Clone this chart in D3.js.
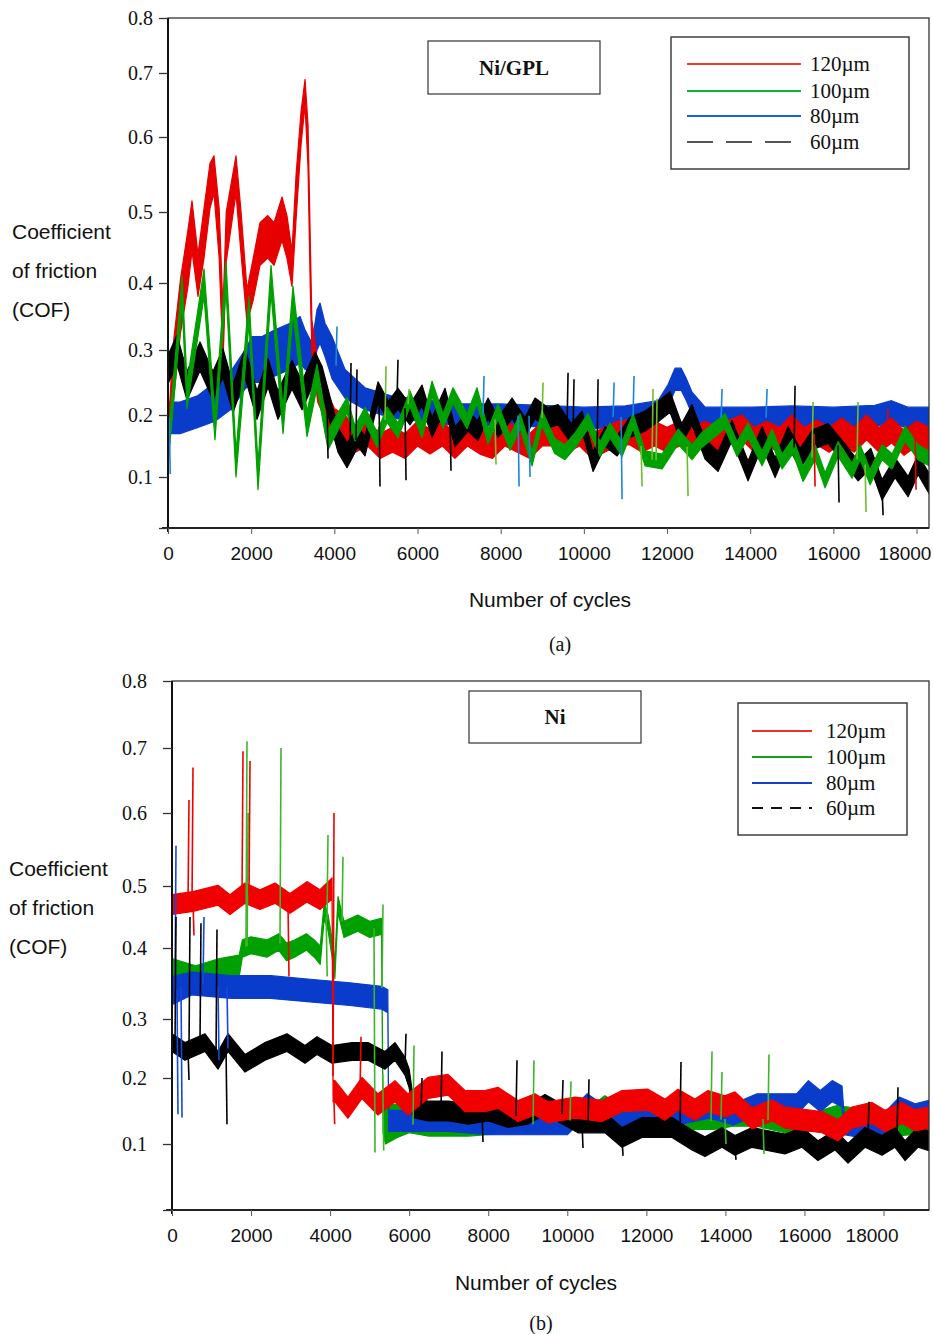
<!DOCTYPE html>
<html lang="en">
<head>
<meta charset="UTF-8">
<title>Coefficient of friction vs number of cycles</title>
<script src="https://d3js.org/d3.v7.min.js"></script>
<style>
  body { margin: 0; background: #fff; }
  .serif { font-family: "Liberation Serif", "Times New Roman", serif; }
  .sans { font-family: "Liberation Sans", Arial, sans-serif; }
</style>
</head>
<body>
<svg width="933" height="1334"></svg>
<script>
// ---------- data ----------
// each point: [cycles, centre COF, optional half-spread of the noise band]
const xTicks = [0, 2000, 4000, 6000, 8000, 10000, 12000, 14000, 16000, 18000];
const yTicks = [0.1, 0.2, 0.3, 0.4, 0.5, 0.6, 0.7, 0.8];
const legendLabels = ["120\u00b5m", "100\u00b5m", "80\u00b5m", "60\u00b5m"];

// (a) Ni/GPL
const gplRed = [[0,0.15,0.02],[120,0.26,0.045],[300,0.365,0.04],[480,0.435,0.04],[577,0.48,0.035],[721,0.41,0.03],
  [866,0.47,0.035],[1010,0.535,0.03],[1106,0.55,0.025],[1230,0.47,0.035],[1323,0.32,0.04],[1400,0.465,0.035],
  [1635,0.55,0.025],[1750,0.475,0.03],[1900,0.365,0.025],[2050,0.405,0.03],[2213,0.455,0.03],[2400,0.465,0.03],
  [2550,0.455,0.03],[2742,0.49,0.03],[2860,0.465,0.03],[2982,0.42,0.025],[3080,0.52,0.03],[3200,0.615,0.025],
  [3295,0.67,0.02],[3367,0.59,0.03],[3420,0.43,0.035],[3460,0.32,0.025],[3600,0.25,0.03],[3800,0.215,0.025],
  [4000,0.185,0.025],[4250,0.18],[4500,0.16],[4800,0.17],[5100,0.15],[5400,0.16],[5700,0.15],[6000,0.17],
  [6300,0.157],[6600,0.17],[6900,0.15],[7200,0.17],[7500,0.157],[7800,0.15],[8100,0.17],[8400,0.16],[8700,0.15],
  [9000,0.17],[9300,0.17],[9600,0.16],[9900,0.17],[10200,0.15],[10500,0.16],[10800,0.17],[11100,0.172],
  [11400,0.16],[11700,0.17],[12000,0.16],[12300,0.17],[12600,0.16],[12900,0.17],[13200,0.162],[13500,0.172],
  [13800,0.18],[14100,0.16],[14400,0.17],[14700,0.16],[15000,0.18],[15300,0.16],[15600,0.172],[15900,0.16],
  [16200,0.175],[16500,0.16],[16800,0.18],[17100,0.16],[17400,0.175],[17700,0.155],[18000,0.17],[18300,0.16]];
const gplGreen = [[0,0.14,0.02],[289,0.35,0.02],[337,0.39,0.02],[457,0.23,0.02],[866,0.40,0.02],[1130,0.18,0.02],
  [1395,0.41,0.02],[1635,0.12,0.02],[1948,0.36,0.02],[2165,0.10,0.02],[2477,0.405,0.02],[2766,0.19,0.02],
  [3006,0.375,0.02],[3343,0.185,0.02],[3583,0.26,0.018],[3848,0.16,0.016],
  [4305,0.215],[4497,0.17],[4738,0.20],[5026,0.16],[5267,0.20],[5531,0.175],[5820,0.225],[6109,0.175],
  [6349,0.24],[6614,0.19],[6854,0.23],[7191,0.19],[7431,0.23],[7696,0.165],[7937,0.205],[8225,0.155],
  [8466,0.19],[8754,0.13],[8995,0.195],[9300,0.15],[9548,0.14],[9800,0.16],[10101,0.19],[10390,0.145],
  [10630,0.175],[10919,0.145],[11183,0.19],[11472,0.13],[11881,0.125],[12266,0.165],[12602,0.14],[12843,0.16],
  [13396,0.19],[13685,0.145],[13949,0.175],[14286,0.13],[14526,0.165],[14767,0.125],[15031,0.15],[15272,0.105],
  [15560,0.14],[15801,0.095],[16113,0.145],[16450,0.11],[16643,0.14],[16883,0.10],[17172,0.14],[17412,0.125],
  [17725,0.17],[18037,0.14],[18300,0.13]];
const gplBlue = [[0,0.195,0.025],[289,0.195,0.025],[721,0.205,0.025],[1130,0.22,0.03],[1539,0.24,0.03],
  [1852,0.27,0.03],[2020,0.285,0.035],[2261,0.285,0.035],[2573,0.295,0.035],[2934,0.305,0.035],[3175,0.315,0.035],
  [3295,0.30,0.03],[3463,0.288,0.022],[3583,0.33,0.03],[3656,0.34,0.03],[3776,0.315,0.025],[3944,0.288,0.032],
  [4257,0.248,0.022],[4738,0.225],[5387,0.212],[6061,0.207],[7000,0.2],[8000,0.2],[9000,0.198],[10000,0.195],
  [11000,0.197],[11785,0.205],[12025,0.23],[12193,0.255],[12340,0.255],[12458,0.24],[12602,0.218],[12915,0.195],
  [14000,0.195],[15000,0.197],[16000,0.195],[17000,0.198],[17400,0.205],[17800,0.195],[18300,0.195]];
const gplBlack = [[0,0.27,0.022],[216,0.3,0.022],[457,0.245,0.022],[770,0.29,0.022],[1082,0.245,0.022],
  [1323,0.28,0.022],[1563,0.225,0.022],[1852,0.28,0.022],[2140,0.215,0.022],[2405,0.265,0.022],[2645,0.215,0.022],
  [2982,0.262,0.022],[3223,0.23,0.022],[3535,0.275,0.022],[3704,0.255,0.02],[4088,0.16,0.02],[4305,0.135,0.02],
  [4569,0.165],[4738,0.15],[5050,0.235],[5300,0.205],[5531,0.225],[5820,0.20],[6109,0.23],[6349,0.18],[6662,0.225],
  [6902,0.165],[7215,0.19],[7450,0.175],[7696,0.21],[7937,0.18],[8273,0.21],[8586,0.18],[8826,0.21],[9139,0.195],
  [9380,0.20],[9700,0.17],[9957,0.19],[10221,0.125],[10510,0.165],[10800,0.15],[11100,0.18],[11472,0.19],
  [11785,0.205],[12073,0.22],[12350,0.17],[12602,0.20],[12915,0.145],[13227,0.125],[13564,0.175],[13949,0.11],
  [14286,0.165],[14599,0.115],[14911,0.165],[15200,0.13],[15500,0.16],[15873,0.17],[16250,0.14],[16595,0.11],
  [16900,0.13],[17172,0.08],[17484,0.115],[17797,0.085],[18037,0.12],[18300,0.09]];
// spikes: [cycles, COF at tip]
const gplRedSpikes = [[15536,0.085],[17292,0.21],[17965,0.08]];
const gplGreenSpikes = [[5219,0.275],[5772,0.24],[7864,0.12],[8995,0.25],[11376,0.085],[11640,0.24],[11736,0.225],
  [12482,0.07],[15488,0.22],[16570,0.22],[16763,0.045]];
const gplBlueSpikes = [[30,0.105],[4040,0.335],[7576,0.26],[8418,0.085],[8682,0.10],[10703,0.25],[10895,0.065],
  [11183,0.26],[13300,0.24],[14382,0.24]];
const gplBlackSpikes = [[3824,0.13],[4377,0.28],[4521,0.27],[5074,0.085],[5507,0.285],[5700,0.095],[6782,0.11],
  [9596,0.265],[9740,0.255],[10318,0.255],[15055,0.245],[16113,0.06],[17172,0.04]];

// (b) Ni
const niRed = [[0,0.47],[531,0.475],[1164,0.485],[1467,0.47],[1847,0.488],[2226,0.478],[2606,0.488],[2985,0.472],
  [3415,0.49],[3744,0.478],[4048,0.495],[4075,0.18],[4123,0.18],[4452,0.155],[4807,0.185],[5211,0.16],[5641,0.18],
  [5970,0.16],[6476,0.185],[6982,0.19],[7412,0.165],[7918,0.165],[8247,0.17],[8753,0.15],[9183,0.16],[9512,0.148],
  [10195,0.155],[10878,0.15],[11384,0.165],[12041,0.167],[12471,0.152],[12800,0.167],[13230,0.152],[13559,0.165],
  [13989,0.157],[14242,0.163],[14672,0.139],[15178,0.151],[15507,0.14],[15937,0.137],[16443,0.133],[16848,0.121],
  [17202,0.14],[17708,0.147],[18037,0.135],[18467,0.147],[18796,0.136],[19150,0.14]];
const niGreen = [[0,0.37,0.015],[600,0.36,0.015],[1200,0.37,0.015],[1700,0.375,0.015],[1780,0.40],[2000,0.405],
  [2400,0.40],[2700,0.41],[2900,0.395],[3100,0.40],[3400,0.41],[3600,0.40],[3750,0.39],[3850,0.46],[3950,0.44],
  [4050,0.40],[4120,0.37],[4200,0.47],[4350,0.43],[4700,0.44],[5000,0.43],[5300,0.435],[5340,0.13],[5400,0.13,0.03],
  [5700,0.135,0.025],[6000,0.13],[6500,0.125],[7500,0.125],[8500,0.13],[9500,0.13],[10000,0.135],[10500,0.14],
  [10950,0.16],[11400,0.145],[11970,0.165],[12500,0.14],[13200,0.135],[13700,0.135],[14200,0.14],[14800,0.14],
  [15500,0.13],[16000,0.13],[16800,0.145],[17500,0.14],[18300,0.125],[19150,0.13]];
const niBlue = [[0,0.34,0.02],[500,0.35],[1500,0.345],[2500,0.345],[3500,0.34],[4500,0.335],[5300,0.33],[5460,0.325],
  [5480,0.135],[6000,0.135],[7000,0.135],[8000,0.13],[9000,0.13],[10000,0.13],[10500,0.16],[11000,0.14],[11600,0.14],
  [12200,0.14],[12800,0.145],[13600,0.155],[14200,0.145],[14800,0.16],[15300,0.16],[15800,0.16],[16100,0.18],
  [16400,0.165],[16700,0.18],[16950,0.172],[17000,0.13],[17500,0.125],[18000,0.13],[18400,0.155],[18800,0.145],
  [19150,0.15]];
const niBlack = [[0,0.26],[329,0.245],[835,0.26],[1164,0.23],[1417,0.26],[1847,0.225],[2353,0.245],[2909,0.26],
  [3365,0.24],[3668,0.255],[4048,0.24],[4554,0.245],[4958,0.245],[5388,0.23],[5641,0.245],[5894,0.22],[6000,0.2],
  [6100,0.155],[6476,0.15],[7000,0.15],[7500,0.145],[8000,0.15],[8500,0.14],[9000,0.145],[9436,0.16],[10271,0.132],
  [10954,0.132],[11384,0.11],[11890,0.125],[12649,0.125],[13155,0.106],[13483,0.096],[13913,0.11],[14242,0.098],
  [14672,0.11],[15507,0.1],[15937,0.11],[16342,0.09],[16772,0.106],[17101,0.086],[17531,0.11],[17961,0.098],
  [18290,0.11],[18543,0.09],[18872,0.11],[19150,0.105]];
const niRedSpikes = [[405,0.62],[506,0.67],[531,0.42],[1771,0.695],[1948,0.68],[2934,0.36],[4073,0.60],[4090,0.13],[4756,0.27]];
const niGreenSpikes = [[1872,0.71],[1900,0.60],[2732,0.70],[3900,0.36],[3921,0.57],[4300,0.54],[5110,0.087],[5312,0.47],
  [5330,0.09],[6097,0.255],[9132,0.23],[10068,0.195],[13635,0.245],[13888,0.21],[13989,0.10],[14950,0.085],[15077,0.24]];
const niBlueSpikes = [[76,0.555],[126,0.145],[228,0.14],[784,0.45],[1164,0.23],[1391,0.25]];
const niBlackSpikes = [[76,0.45],[405,0.197],[430,0.45],[708,0.44],[1113,0.43],[1366,0.13],[5894,0.275],[6300,0.2],
  [6805,0.245],[7842,0.103],[8702,0.23],[9866,0.197],[10372,0.094],[10524,0.198],[11384,0.082],[12851,0.227],
  [14242,0.076],[17607,0.164],[18340,0.186]];

// ---------- drawing ----------
const svg = d3.select("svg");

function centreAt(pts, c) {
  const i = Math.max(1, Math.min(pts.length - 1, d3.bisector(d => d.c).left(pts, c)));
  const a = pts[i - 1], b = pts[i];
  const t = Math.max(0, Math.min(1, (c - a.c) / (b.c - a.c)));
  return a.m + t * (b.m - a.m);
}

function drawPanel(p) {
  const x = d3.scaleLinear().domain([0, p.xMax]).range([p.left, p.right]);
  // the printed axis is not evenly spaced, so the scale follows its tick marks
  const y = d3.scaleLinear().domain(p.yDomain).range(p.yRange);

  svg.append("clipPath").attr("id", p.id + "clip")
    .append("rect").attr("x", p.left).attr("y", p.top)
    .attr("width", p.right - p.left).attr("height", p.bottom - p.top);

  const plot = svg.append("g").attr("clip-path", `url(#${p.id}clip)`);

  const prepared = p.series.map(s => ({
    s, pts: s.data.map(d => ({ c: d[0], m: d[1], h: d[2] != null ? d[2] : s.spread }))
  }));

  prepared.forEach(({ s, pts }) => {
    const area = d3.area()
      .x(d => x(d.c))
      .y0(d => y(d.m - d.h))
      .y1(d => y(d.m + d.h));
    plot.append("path")
      .attr("d", area(pts))
      .attr("fill", s.color)
      .attr("stroke", s.color)
      .attr("stroke-width", 1.2)
      .attr("stroke-linejoin", "round");
  });

  prepared.forEach(({ s, pts }) => {
    plot.selectAll(null)
      .data(s.spikes)
      .enter().append("line")
      .attr("x1", d => x(d[0])).attr("x2", d => x(d[0]) + 1)
      .attr("y1", d => y(centreAt(pts, d[0])))
      .attr("y2", d => y(d[1]))
      .attr("stroke", s.spikeColor)
      .attr("stroke-width", 1.6);
  });

  // frame
  svg.append("rect")
    .attr("x", p.left).attr("y", p.top)
    .attr("width", p.right - p.left).attr("height", p.bottom - p.top)
    .attr("fill", "none").attr("stroke", "#333").attr("stroke-width", 1.3);
  svg.append("line").attr("x1", p.left).attr("x2", p.left)
    .attr("y1", p.top).attr("y2", p.bottom + 4).attr("stroke", "#111").attr("stroke-width", 2);
  svg.append("line").attr("x1", p.left - 6).attr("x2", p.right)
    .attr("y1", p.bottom).attr("y2", p.bottom).attr("stroke", "#222").attr("stroke-width", 2);

  // y axis
  const yAxis = svg.append("g").attr("transform", `translate(${p.left},0)`)
    .call(d3.axisLeft(y).tickValues([p.yDomain[0]].concat(yTicks))
      .tickSize(9).tickPadding(p.yPad)
      .tickFormat(d => d < 0.05 ? "" : d.toFixed(1)));
  yAxis.select(".domain").remove();
  yAxis.selectAll(".tick line").attr("stroke", "#333").attr("stroke-width", 1.3);
  yAxis.selectAll("text").attr("class", "serif").attr("font-size", 20).attr("fill", "#111");

  // x axis
  const xAxis = svg.append("g").attr("transform", `translate(0,${p.bottom})`)
    .call(d3.axisBottom(x).tickValues(xTicks).tickSize(6).tickPadding(13).tickFormat(d3.format("d")));
  xAxis.select(".domain").remove();
  xAxis.selectAll(".tick line").attr("stroke", "#555");
  xAxis.selectAll("text").attr("class", "sans").attr("font-size", 19).attr("fill", "#111")
    .attr("dx", d => d === 18000 ? -12 : 0);

  // axis titles
  svg.append("g").selectAll("text")
    .data(["Coefficient", "of friction", "(COF)"])
    .enter().append("text")
    .attr("class", "sans").attr("font-size", 21).attr("fill", "#111")
    .attr("x", p.yTitleX).attr("y", (d, i) => p.yTitleY + i * 39)
    .text(d => d);
  svg.append("text").attr("class", "sans").attr("font-size", 21).attr("fill", "#111")
    .attr("text-anchor", "middle").attr("x", p.xTitleX).attr("y", p.xTitleY)
    .text("Number of cycles");
  svg.append("text").attr("class", "serif").attr("font-size", 20).attr("fill", "#111")
    .attr("text-anchor", "middle").attr("x", p.capX).attr("y", p.capY)
    .text(p.caption);

  // material box
  const b = p.nameBox;
  svg.append("rect").attr("x", b[0]).attr("y", b[1]).attr("width", b[2]).attr("height", b[3])
    .attr("fill", "#fff").attr("stroke", "#333").attr("stroke-width", 1.2);
  svg.append("text").attr("class", "serif").attr("font-weight", "bold").attr("font-size", 21)
    .attr("text-anchor", "middle").attr("fill", "#111")
    .attr("x", b[0] + b[2] / 2).attr("y", b[1] + b[3] / 2 + 7).text(p.name);

  // legend
  const L = p.legend;
  svg.append("rect").attr("x", L.x).attr("y", L.y).attr("width", L.w).attr("height", L.h)
    .attr("fill", "#fff").attr("stroke", "#333").attr("stroke-width", 1.4);
  const rows = svg.append("g").selectAll("g")
    .data(legendLabels).enter().append("g")
    .attr("transform", (d, i) => `translate(0,${L.rowY[i]})`);
  rows.append("line")
    .attr("x1", L.lineX[0]).attr("x2", L.lineX[1])
    .attr("stroke", (d, i) => L.colors[i])
    .attr("stroke-width", (d, i) => i === 3 ? 2 : 1.8)
    .attr("stroke-dasharray", (d, i) => i === 3 ? L.dash : null);
  rows.append("text").attr("class", "serif").attr("font-size", 21).attr("fill", "#111")
    .attr("x", L.textX).attr("y", 7).text(d => d);
}

drawPanel({
  id: "a", left: 168, right: 929, top: 18, bottom: 528, xMax: 18300,
  yDomain: [0.02, 0.1, 0.2, 0.3, 0.4, 0.5, 0.6, 0.7, 0.8],
  yRange: [528, 477, 415, 350, 283, 212, 137, 73, 18],
  yPad: 6, yTitleX: 12, yTitleY: 239, xTitleX: 550, xTitleY: 607,
  caption: "(a)", capX: 560, capY: 651,
  name: "Ni/GPL", nameBox: [428, 41, 172, 53],
  legend: { x: 671, y: 37, w: 238, h: 132, rowY: [64, 91, 116, 142], lineX: [687, 801], textX: 810,
            colors: ["#f03a3a", "#12b040", "#1a5fe0", "#555"], dash: "26,13" },
  series: [
    { data: gplBlue, spread: 0.017, color: "#0a3ccc", spikes: gplBlueSpikes, spikeColor: "#1c86d6" },
    { data: gplRed, spread: 0.02, color: "#e60000", spikes: gplRedSpikes, spikeColor: "#e60000" },
    { data: gplBlack, spread: 0.016, color: "#000", spikes: gplBlackSpikes, spikeColor: "#000" },
    { data: gplGreen, spread: 0.012, color: "#00a000", spikes: gplGreenSpikes, spikeColor: "#6cbf2a" }
  ]
});

drawPanel({
  id: "b", left: 172, right: 929, top: 681, bottom: 1210, xMax: 19150,
  yDomain: [0, 0.1, 0.2, 0.3, 0.4, 0.5, 0.6, 0.7, 0.8],
  yRange: [1210, 1144, 1078, 1019, 948, 886, 813, 748, 681],
  yPad: 16, yTitleX: 9, yTitleY: 876, xTitleX: 536, xTitleY: 1290,
  caption: "(b)", capX: 541, capY: 1330,
  name: "Ni", nameBox: [469, 691, 172, 52],
  legend: { x: 738, y: 703, w: 169, h: 132, rowY: [731, 757, 783, 808], lineX: [752, 812], textX: 826,
            colors: ["#f03030", "#18a018", "#1040d0", "#111"], dash: "11,8" },
  series: [
    { data: niGreen, spread: 0.013, color: "#00a000", spikes: niGreenSpikes, spikeColor: "#3cb62a" },
    { data: niBlue, spread: 0.016, color: "#0a3ccc", spikes: niBlueSpikes, spikeColor: "#1448e0" },
    { data: niBlack, spread: 0.015, color: "#000", spikes: niBlackSpikes, spikeColor: "#000" },
    { data: niRed, spread: 0.016, color: "#f00000", spikes: niRedSpikes, spikeColor: "#f00000" }
  ]
});
</script>
</body>
</html>
